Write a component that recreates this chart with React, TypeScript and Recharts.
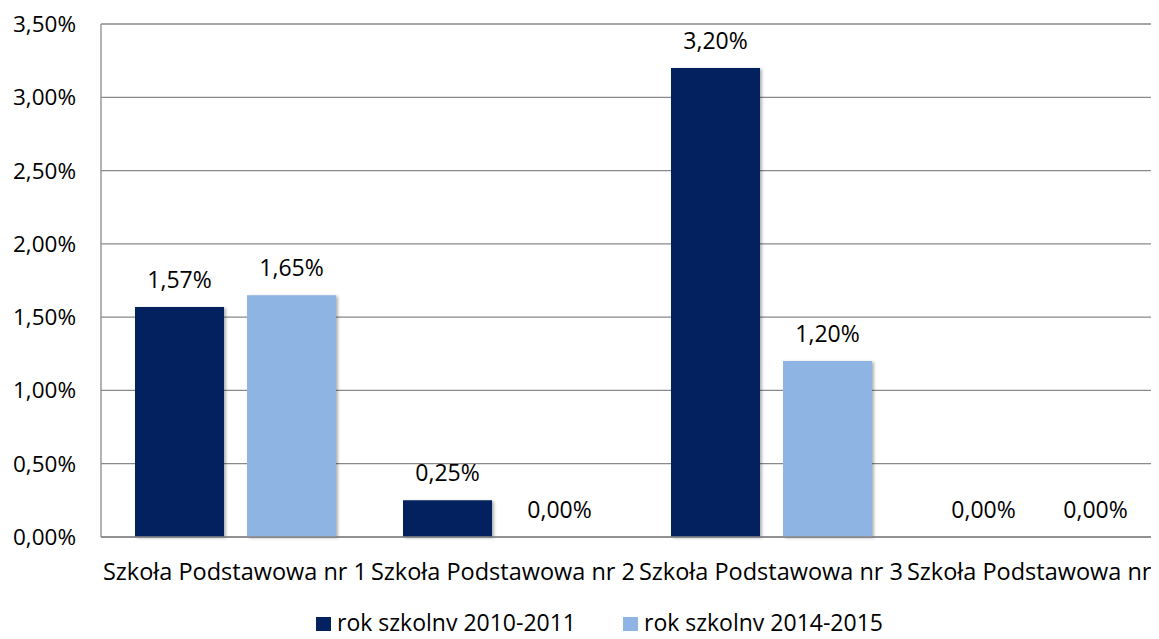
import { BarChart, Bar, XAxis, YAxis, CartesianGrid, Legend, LabelList, Cell } from 'recharts'

const schools = ['Szkoła Podstawowa nr 1', 'Szkoła Podstawowa nr 2', 'Szkoła Podstawowa nr 3', 'Szkoła Podstawowa nr 4']
const year2010 = [1.57, 0.25, 3.2, 0]
const year2014 = [1.65, 0, 1.2, 0]
const yTicks = [0, 0.5, 1, 1.5, 2, 2.5, 3, 3.5]

const data = schools.map((name, i) => ({ name, a: year2010[i], b: year2014[i] }))

const fmt = (v: number) => `${Number(v).toFixed(2).replace('.', ',')}%`

const font = '"Open Sans", sans-serif'
const grid = '#8a8a8a'
const navy = '#03215E'
const light = '#8EB4E3'
const shadow = { filter: 'drop-shadow(2px 1px 1.5px rgba(0,0,0,0.3))' }

// labels drawn by hand; zero bars get a 1px min size (invisible) so they still get "0,00%"
const TopLabel = (props: any) => {
    const { x, y, width, height, value } = props
    const top = value === 0 ? y + height : y
    return (
        <text x={x + width / 2} y={top - 19} textAnchor="middle" fill="#000" fontSize={23} fontFamily={font}>
            {fmt(value)}
        </text>
    )
}

export default function App() {
    return (
        <div style={{ margin: -8, width: 1159, height: 639, overflow: 'hidden', background: '#fff', fontFamily: font }}>
            <BarChart
                width={1204}
                height={639}
                data={data}
                margin={{ top: 24, right: 31, left: 0, bottom: 0 }}
                barGap={23}
            >
                <CartesianGrid vertical={false} stroke={grid} strokeWidth={1.3} />
                <XAxis
                    dataKey="name"
                    interval={0}
                    tickLine={false}
                    tickSize={0}
                    tickMargin={26}
                    height={78}
                    axisLine={{ stroke: grid, strokeWidth: 1.3 }}
                    tick={{ fill: '#000', fontSize: 23.5, fontFamily: font }}
                />
                <YAxis
                    domain={[0, 3.5]}
                    ticks={yTicks}
                    width={101}
                    tickLine={false}
                    tickSize={0}
                    tickMargin={25}
                    axisLine={{ stroke: grid, strokeWidth: 1.3 }}
                    tickFormatter={fmt}
                    tick={{ fill: '#000', fontSize: 22.5, fontFamily: font }}
                />
                <Legend
                    verticalAlign="bottom"
                    iconType="square"
                    iconSize={15}
                    wrapperStyle={{ fontSize: 23, fontFamily: font, color: '#000', lineHeight: '24px', left: 21, top: 610, bottom: 'auto', width: 1204 }}
                    formatter={(value) => <span style={{ color: '#000', marginLeft: 2, marginRight: 37 }}>{value}</span>}
                />
                <Bar dataKey="a" name="rok szkolny 2010-2011" fill={navy} barSize={89} minPointSize={1} isAnimationActive={false}>
                    {data.map((d, i) => (
                        <Cell key={`a-${i}`} fill={d.a === 0 ? 'transparent' : navy} style={d.a === 0 ? undefined : shadow} />
                    ))}
                    <LabelList dataKey="a" content={TopLabel} />
                </Bar>
                <Bar dataKey="b" name="rok szkolny 2014-2015" fill={light} barSize={89} minPointSize={1} isAnimationActive={false}>
                    {data.map((d, i) => (
                        <Cell key={`b-${i}`} fill={d.b === 0 ? 'transparent' : light} style={d.b === 0 ? undefined : shadow} />
                    ))}
                    <LabelList dataKey="b" content={TopLabel} />
                </Bar>
            </BarChart>
        </div>
    )
}
